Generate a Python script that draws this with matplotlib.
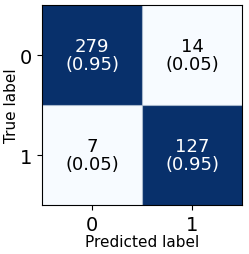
import numpy as np
import matplotlib
matplotlib.use("Agg")
import matplotlib.pyplot as plt

classes = ["0", "1"]
counts = np.array([[279, 14], [7, 127]])
fractions = np.array([[0.95, 0.05], [0.05, 0.95]])

fig = plt.figure(figsize=(2.49, 2.55), dpi=100)
ax = fig.add_axes([0.169, 0.192, 0.803, 0.784])
ax.imshow(fractions, cmap="Blues", aspect="auto", interpolation="nearest")
for i in range(2):
    for j in range(2):
        color = "white" if fractions[i, j] > 0.5 else "black"
        ax.text(j, i, f"{counts[i, j]}\n({fractions[i, j]:.2f})", ha="center", va="center",
                color=color, fontsize=13, linespacing=1.05)
ax.set_xticks(range(2))
ax.set_yticks(range(2))
ax.set_xticklabels(classes, fontsize=14)
ax.set_yticklabels(classes, fontsize=14)
ax.set_xlabel("Predicted label", fontsize=11, labelpad=0)
ax.set_ylabel("True label", fontsize=11, labelpad=1)
ax.axhline(0.5, color="#a8b8cc", lw=0.8)
ax.axvline(0.5, color="#a8b8cc", lw=0.8)
fig.savefig("out.png", dpi=100)
